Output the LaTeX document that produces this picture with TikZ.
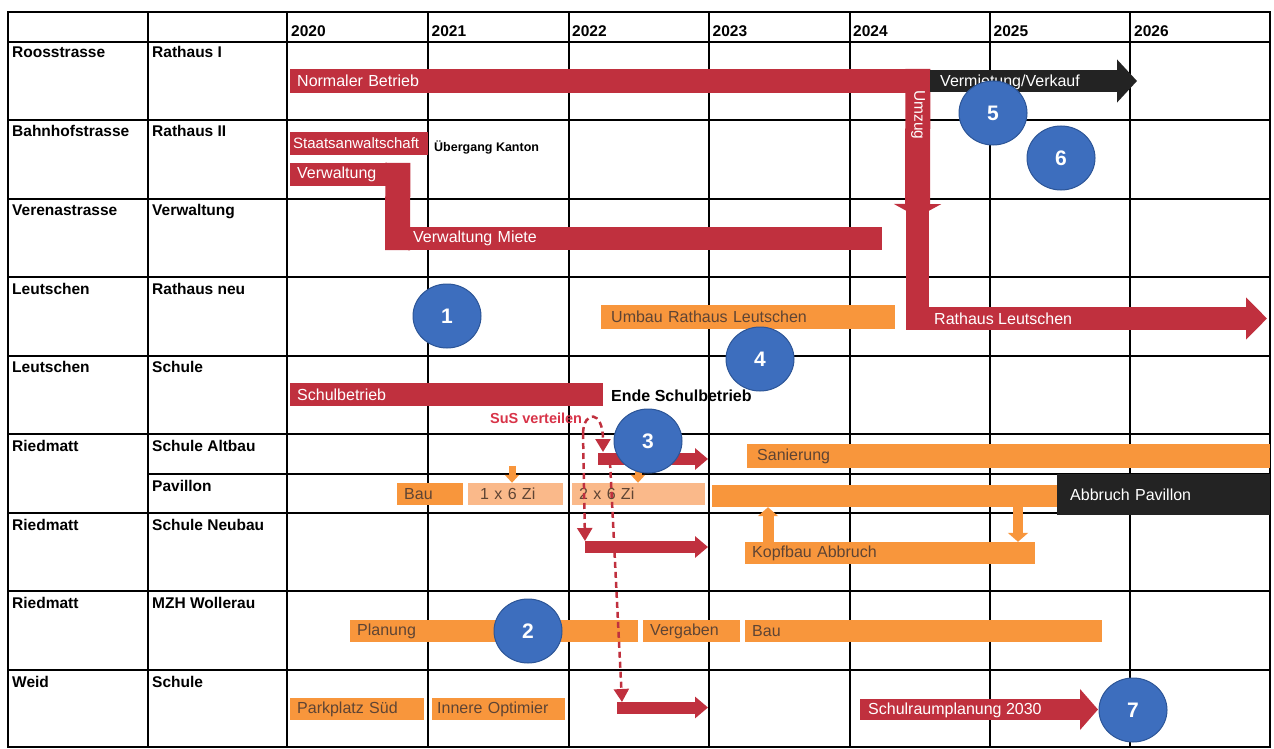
\documentclass[tikz,border=0pt]{standalone}
\usepackage{fontspec}
\setmainfont{Liberation Sans}
\usetikzlibrary{shapes.geometric,arrows.meta,positioning}
\definecolor{barred}{HTML}{C0303E}
\definecolor{susred}{HTML}{D83348}
\definecolor{barorange}{HTML}{F8963C}
\definecolor{barpale}{HTML}{FAB98A}
\definecolor{bardark}{HTML}{232323}
\definecolor{bartext}{HTML}{5E4434}
\definecolor{numblue}{HTML}{3D6EBE}
\definecolor{numedge}{HTML}{2C5597}
\tikzset{
  tline/.style={line width=2.4pt, line cap=rect},
  cell/.style={anchor=base west, inner sep=0pt, font=\fontsize{15.5}{18}\selectfont\bfseries},
  note/.style={anchor=base west, inner sep=0pt, font=\fontsize{12.5}{15}\selectfont\bfseries},
  bar/.style={anchor=west, align=left, inner xsep=7pt, inner ysep=0pt, minimum height=23pt,
              font=\fontsize{16}{18}\selectfont},
  rbar/.style={bar, fill=barred, text=white},
  obar/.style={bar, fill=barorange, text=bartext, minimum height=22pt},
  pbar/.style={obar, fill=barpale},
  dbar/.style={bar, fill=bardark, text=white},
  wtxt/.style={anchor=west, inner sep=0pt, text=white, font=\fontsize{16}{18}\selectfont},
  num/.style={ellipse, fill=numblue, draw=numedge, line width=1pt, minimum width=68pt,
              minimum height=64pt, inner sep=0pt, text=white, font=\fontsize{21}{24}\selectfont\bfseries},
  flow/.style={draw=barred, line join=miter},
  smalltip/.style={-{Triangle[length=13pt,width=21pt]}},
  susflow/.style={draw=barred, line width=2.5pt, dash pattern=on 6pt off 4pt,
                  -{Triangle[length=13pt,width=15pt]}},
  oflow/.style={draw=barorange, -{Triangle[length=9pt,width=20pt]}}
}

\begin{document}
\begin{tikzpicture}[x=1pt,y=-1pt]
  \useasboundingbox (0,0) rectangle (1274,749);
  % table
  \foreach \y in {12,42,120,199,277,356,434,513,591,670,747}
    \draw[tline] (8,\y) -- (1270,\y);
  \draw[tline] (148,474) -- (1270,474);
  \foreach \x in {8,148,287,428,569,709,850,990,1130,1270}
    \draw[tline] (\x,12) -- (\x,747);
  \foreach \yr [count=\i from 0] in {2020,...,2026}
    \node[cell] (y\yr) at (291+140.5*\i,37) {\yr};
  \foreach \y/\a/\b in {58/Roosstrasse/Rathaus I, 137/Bahnhofstrasse/Rathaus II,
      215/Verenastrasse/Verwaltung, 294/Leutschen/Rathaus neu, 372/Leutschen/Schule,
      451/Riedmatt/Schule Altbau, 530/Riedmatt/Schule Neubau, 608/Riedmatt/MZH Wollerau,
      687/Weid/Schule} {
    \node[cell] (site\y) at (12,\y) {\a};
    \node[cell] (bldg\y) at (152,\y) {\b};
  }
  \node[cell] (bldgpav) at (152,491) {Pavillon};

  % red bars
  \node[rbar, text width=626pt, minimum height=24pt] (normal) at (290,81) {Normaler Betrieb};
  \node[rbar, text width=132pt, inner xsep=3pt, font=\fontsize{15}{18}\selectfont] (staats) at (290,143.5) {Staatsanwaltschaft};
  \node[rbar, text width=106pt] (verw) at (290,174.5) {Verwaltung};
  \node[rbar, text width=483pt] (miete) at (385,238.5) {\hspace*{21pt}Verwaltung Miete};
  \node[rbar, text width=299pt] (schul) at (290,394.5) {Schulbetrieb};
  \draw[flow, line width=25pt] ([xshift=-12.5pt]verw.north east) -- ([xshift=12.5pt]miete.south west);

  % orange bars
  \node[obar, text width=280pt, minimum height=24pt] (umbau) at (601,317) {\hspace*{3pt}Umbau Rathaus Leutschen};
  \node[obar, text width=509pt, minimum height=24pt] (sanier) at (747,456) {\hspace*{3pt}Sanierung};
  \node[obar, text width=52pt] (pbau) at (397,494) {Bau};
  \node[pbar, text width=81pt] (zi1) at (468,494) {\hspace*{5pt}1 x 6 Zi};
  \node[pbar, text width=119pt] (zi2) at (572,494) {2 x 6 Zi};
  \node[obar, text width=331pt] (pav) at (712,496) {};
  \node[dbar, text width=199pt, minimum height=41pt] (abbr) at (1057,494.5) {\hspace*{6pt}Abbruch Pavillon};
  \node[obar, text width=276pt] (kopf) at (745,553) {Kopfbau Abbruch};
  \node[obar, text width=274pt] (plan) at (350,631) {Planung};
  \node[obar, text width=83pt] (verg) at (643,631) {Vergaben};
  \node[obar, text width=343pt] (mbau) at (745,631) {Bau};
  \node[obar, text width=120pt] (park) at (290,709) {Parkplatz Süd};
  \node[obar, text width=123pt, inner xsep=5pt] (innere) at (432,709) {Innere Optimier};

  % big arrows
  \coordinate (umzugmid) at (917.5,205);
  \coordinate (umzugtip) at (917.5,217);
  \coordinate (rltip) at (1267,318.5);
  \coordinate (vermtip) at (1137,81);
  \coordinate (srpstart) at (860,709.5);
  \coordinate (srptip) at (1098,709.5);
  \draw[flow, line width=25pt, -{Triangle[length=13pt,width=47pt]}]
    ([xshift=-12.5pt]normal.north east) -- (umzugtip);
  \draw[flow, line width=23pt, -{Triangle[length=21pt,width=41pt]}] (umzugmid) |- (rltip);
  \draw[draw=bardark, line width=22pt, -{Triangle[length=20pt,width=42pt]}] (normal.east) -- (vermtip);
  \draw[flow, line width=21pt, -{Triangle[length=18pt,width=40pt]}] (srpstart) -- (srptip);
  \node[wtxt, rotate=-90, anchor=center, font=\fontsize{15.5}{18}\selectfont] (umzug) at (918,115) {Umzug};
  \node[wtxt] (rltext) at (934,319) {Rathaus Leutschen};
  \node[wtxt] (vermtext) at (940,82) {Vermietung/Verkauf};
  \node[wtxt] (srptext) at (868,710) {Schulraumplanung 2030};

  % SuS verteilen
  \coordinate (susa) at (583,433);
  \coordinate (susb) at (603,452);
  \coordinate (altstart) at (598,459);
  \coordinate (altend) at (708,459);
  \coordinate (neustart) at (585,547);
  \coordinate (neuend) at (708,547);
  \coordinate (weidtop) at (610,462);
  \coordinate (weidstart) at (617,707.5);
  \coordinate (weidend) at (708,707.5);
  \draw[flow, line width=12pt, smalltip] (altstart) -- (altend);
  \draw[flow, line width=12pt, smalltip] (neustart) -- (neuend);
  \draw[flow, line width=12pt, smalltip] (weidstart) -- (weidend);
  \draw[susflow] (susa) .. controls (584,410) and (603,410) .. (susb);
  \draw[susflow] (susa) -- ([yshift=6pt]neustart);
  \draw[susflow] (weidtop) -- ([xshift=5pt,yshift=5.5pt]weidstart);

  % orange links
  \draw[oflow, line width=7pt, -{Triangle[length=8pt,width=14pt]}]
    ([xshift=44pt,yshift=17pt]zi1.north west) -- ([xshift=44pt]zi1.north west);
  \draw[oflow, line width=7pt, -{Triangle[length=8pt,width=14pt]}]
    ([xshift=66pt,yshift=13pt]zi2.north west) -- ([xshift=66pt]zi2.north west);
  \draw[oflow, line width=11pt] ([xshift=23pt]kopf.north west) -- ([xshift=56pt]pav.south west);
  \draw[oflow, line width=10pt] ([xshift=306pt]pav.south west) -- ([xshift=273pt]kopf.north west);

  % notes
  \node[note] (kanton) at (434,151) {Übergang Kanton};
  \node[note, font=\fontsize{16}{19}\selectfont\bfseries] (ende) at (611,401) {Ende Schulbetrieb};
  \node[note, text=susred, font=\fontsize{14.5}{17}\selectfont\bfseries] (sus) at (490,423) {SuS verteilen};

  % numbers
  \node[num] (n1) at (447,316) {1};
  \node[num] (n2) at (528,631) {2};
  \node[num] (n3) at (648,441) {3};
  \node[num] (n4) at (760,359) {4};
  \node[num] (n5) at (993,113) {5};
  \node[num] (n6) at (1061,158) {6};
  \node[num] (n7) at (1133,710) {7};
\end{tikzpicture}
\end{document}
